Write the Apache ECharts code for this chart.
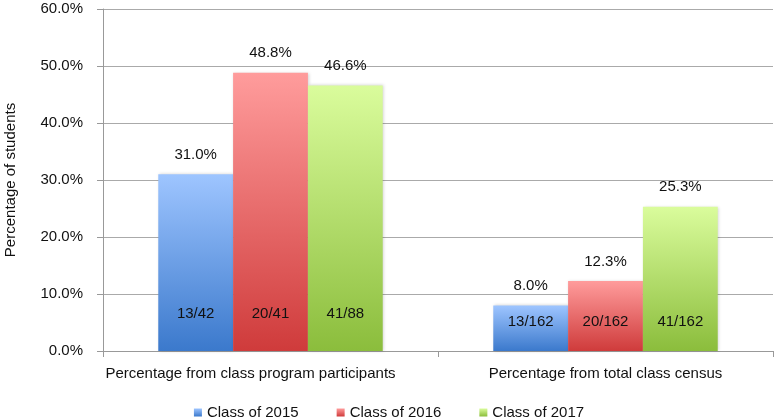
<!DOCTYPE html>
<html>
<head>
<meta charset="utf-8">
<script src="https://cdn.jsdelivr.net/npm/echarts@6/dist/echarts.min.js"></script>
<style>
html,body{margin:0;padding:0;background:#fff;}
#chart{width:778px;height:418px;}
</style>
</head>
<body>
<div id="chart"></div>
<script>
const categories = ['Percentage from class program participants', 'Percentage from total class census'];
const seriesNames = ['Class of 2015', 'Class of 2016', 'Class of 2017'];
const values2015 = [31.0, 8.0];
const values2016 = [48.8, 12.3];
const values2017 = [46.6, 25.3];
const fractions2015 = ['13/42', '13/162'];
const fractions2016 = ['20/41', '20/162'];
const fractions2017 = ['41/88', '41/162'];
const yTicks = [0, 10, 20, 30, 40, 50, 60];

const FONT = 'Liberation Sans, Arial, Helvetica, sans-serif';
const FS = 15;
const gradients = [
  ['#9ec5ff', '#3b79cc'],
  ['#ff9c9c', '#cf3b3b'],
  ['#dafc9c', '#8bbd3c']
];
function grad(i) {
  return new echarts.graphic.LinearGradient(0, 0, 0, 1, [
    { offset: 0, color: gradients[i][0] },
    { offset: 1, color: gradients[i][1] }
  ]);
}
const allValues = [values2015, values2016, values2017];
const allFractions = [fractions2015, fractions2016, fractions2017];
const fractionDistance = [30, 22];

const series = [];
seriesNames.forEach((name, i) => {
  series.push({
    name: name,
    type: 'bar',
    xAxisIndex: 0,
    data: allValues[i],
    barGap: '0%',
    barCategoryGap: '33%',
    itemStyle: { color: grad(i), shadowColor: 'rgba(0,0,0,0.18)', shadowBlur: 3, shadowOffsetX: 1, shadowOffsetY: 0 },
    label: {
      show: true,
      position: 'top',
      distance: 12,
      fontFamily: FONT,
      fontSize: FS,
      color: '#111',
      formatter: p => p.value.toFixed(1) + '%'
    },
    emphasis: { disabled: true }
  });
});
seriesNames.forEach((name, i) => {
  series.push({
    name: name + ' n',
    type: 'bar',
    xAxisIndex: 1,
    data: allValues[i].map((v, j) => ({
      value: v,
      label: { distance: fractionDistance[j] }
    })),
    barGap: '0%',
    barCategoryGap: '33%',
    itemStyle: { color: 'rgba(0,0,0,0)' },
    label: {
      show: true,
      position: 'insideBottom',
      fontFamily: FONT,
      fontSize: FS,
      color: '#111',
      formatter: p => allFractions[i][p.dataIndex]
    },
    z: 5,
    silent: true,
    emphasis: { disabled: true }
  });
});

const chart = echarts.init(document.getElementById('chart'), null, { renderer: 'canvas' });
chart.setOption({
  animation: false,
  backgroundColor: '#fff',
  grid: { left: 103, right: 5, top: 9, bottom: 67, containLabel: false, outerBoundsMode: 'none' },
  legend: {
    data: seriesNames.map((n, i) => ({ name: n, itemStyle: { color: grad(i) } })),
    top: 405,
    left: 'center',
    itemWidth: 8,
    itemHeight: 8,
    itemGap: 38,
    icon: 'rect',
    padding: 0,
    textStyle: { fontFamily: FONT, fontSize: FS, color: '#111' }
  },
  xAxis: [
    {
      type: 'category',
      data: categories,
      axisLine: { lineStyle: { color: '#999' } },
      axisTick: { show: true, length: 6, lineStyle: { color: '#999' } },
      axisLabel: {
        fontFamily: FONT, fontSize: FS, color: '#111', margin: 15, interval: 0,
        formatter: (v, idx) => idx === 0 ? '{a|' + v + '}' : '{b|' + v + '}',
        rich: {
          a: { fontFamily: FONT, fontSize: FS, color: '#111', padding: [0, 40, 0, 0] },
          b: { fontFamily: FONT, fontSize: FS, color: '#111' }
        }
      }
    },
    {
      type: 'category',
      data: categories,
      show: false,
      position: 'bottom'
    }
  ],
  yAxis: {
    type: 'value',
    min: yTicks[0],
    max: yTicks[yTicks.length - 1],
    interval: 10,
    name: 'Percentage of students',
    nameLocation: 'middle',
    nameGap: 85,
    nameTextStyle: { fontFamily: FONT, fontSize: FS, color: '#111' },
    axisLine: { show: true, lineStyle: { color: '#999' } },
    axisTick: { show: true, length: 6, lineStyle: { color: '#999' } },
    splitLine: { lineStyle: { color: '#aaa' } },
    axisLabel: {
      fontFamily: FONT, fontSize: FS, color: '#111', margin: 20,
      formatter: v => v.toFixed(1) + '%'
    }
  },
  series: series
});
</script>
</body>
</html>
